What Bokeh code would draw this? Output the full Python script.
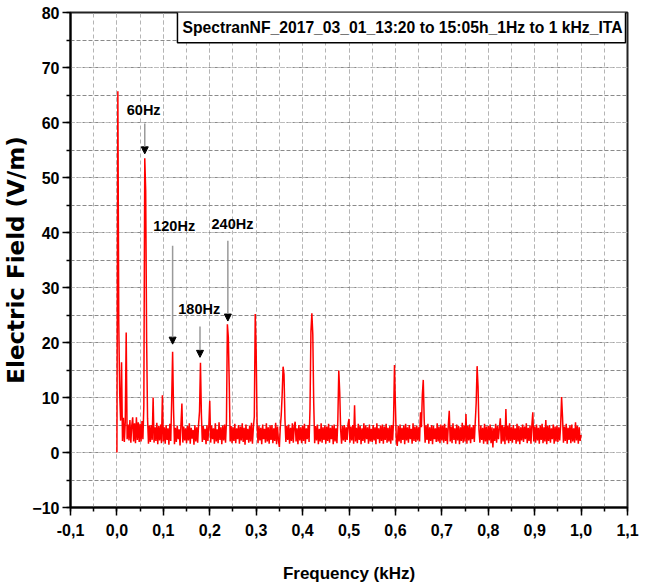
from bokeh.plotting import figure
from bokeh.models import (Range1d, SingleIntervalTicker, CustomJSTickFormatter,
                          Label, Arrow, NormalHead)
from bokeh.core.properties import value
from bokeh.embed import file_html
from bokeh.resources import INLINE

# ---------------- data ----------------
# amplitude (V/m) sampled every 2 Hz from 0 Hz to 1000 Hz
amp_0_48 = [0.0, 65.7, 23.4, 10.7, 5.8, 16.4, 2.1, 6.3, 1.9, 5.6, 21.8, 2.4, 5.1, 2.2, 5.9, 1.8, 4.9, 6.4, 2.0, 5.3, 1.7, 6.4, 2.3, 5.5, 1.9]
amp_50_98 = [5.2, 2.0, 5.7, 2.4, 8.5, 53.5, 47.6, 20.5, 6.2, 1.6, 4.9, 1.9, 5.0, 2.3, 10.0, 1.8, 4.6, 2.1, 5.4, 1.5, 4.8, 2.2, 5.1, 1.7, 10.4]
amp_100_148 = [2.0, 4.6, 1.6, 5.0, 2.3, 4.4, 1.4, 5.2, 2.1, 9.5, 18.3, 7.8, 1.5, 4.5, 1.9, 4.9, 2.4, 4.2, 1.3, 5.1, 8.9, 1.8, 4.7, 2.2, 4.4]
amp_150_198 = [1.7, 4.8, 2.2, 5.3, 1.6, 4.5, 2.5, 4.1, 1.4, 5.0, 2.0, 4.6, 1.8, 5.2, 7.5, 16.3, 6.9, 1.9, 4.8, 2.3, 4.3, 1.5, 5.0, 2.1, 4.7]
amp_200_248 = [9.4, 1.8, 4.9, 2.4, 4.4, 1.6, 5.3, 2.0, 4.2, 1.7, 5.5, 2.3, 4.6, 1.5, 4.9, 2.2, 5.1, 1.8, 5.6, 23.3, 21.0, 12.5, 2.0, 4.8, 1.7]
amp_250_298 = [4.6, 2.1, 5.2, 1.7, 4.4, 2.4, 5.0, 1.6, 4.7, 2.2, 5.3, 1.9, 4.5, 1.4, 5.1, 2.3, 4.3, 1.8, 4.9, 2.0, 5.4, 1.6, 4.6, 6.5, 25.2]
amp_300_348 = [18.4, 5.2, 1.7, 4.8, 2.2, 4.5, 1.5, 5.1, 2.4, 4.3, 1.8, 5.3, 2.0, 4.6, 1.6, 4.9, 2.3, 5.0, 1.7, 4.4, 2.1, 5.4, 1.5, 4.7, 2.2]
amp_350_398 = [1.0, 4.6, 6.8, 10.5, 15.6, 14.2, 6.1, 1.9, 4.8, 2.3, 5.1, 1.6, 4.5, 2.1, 5.3, 1.8, 4.7, 5.6, 2.0, 4.4, 1.5, 5.0, 2.2, 4.6, 1.7]
amp_400_448 = [4.9, 2.1, 5.2, 1.6, 4.4, 2.4, 5.0, 1.9, 8.0, 22.0, 25.3, 21.5, 9.0, 1.7, 4.8, 2.2, 5.1, 1.5, 4.3, 2.0, 5.3, 1.8, 4.6, 2.3, 4.9]
amp_450_498 = [1.6, 4.7, 2.1, 5.2, 1.8, 4.5, 2.4, 4.9, 1.5, 5.1, 2.0, 4.4, 1.7, 6.0, 14.9, 11.0, 4.2, 1.6, 4.8, 2.2, 5.0, 1.9, 4.6, 2.3, 5.2]
amp_500_548 = [6.1, 1.8, 4.7, 2.2, 5.0, 1.6, 8.6, 2.0, 4.5, 1.7, 5.2, 2.3, 4.8, 1.5, 4.4, 2.1, 5.3, 1.8, 4.9, 2.4, 4.6, 1.6, 5.1, 2.0, 4.3]
amp_550_598 = [1.9, 5.0, 2.2, 4.6, 1.5, 5.3, 2.4, 4.4, 1.7, 4.9, 2.1, 5.1, 1.6, 4.7, 2.3, 5.2, 1.8, 4.5, 2.0, 4.8, 1.6, 5.0, 2.2, 5.8, 15.9]
amp_600_648 = [8.5, 2.1, 1.2, 4.8, 2.0, 5.1, 1.7, 4.5, 2.3, 4.9, 1.5, 5.2, 2.2, 4.6, 1.8, 5.0, 2.4, 4.3, 1.6, 5.3, 2.1, 4.7, 1.9, 4.9, 2.2]
amp_650_698 = [4.6, 2.0, 7.3, 4.6, 10.5, 13.2, 6.0, 1.8, 4.9, 2.3, 5.2, 1.6, 4.6, 2.1, 5.0, 1.5, 4.8, 2.4, 4.4, 1.9, 5.3, 2.0, 4.7, 1.7, 5.1]
amp_700_748 = [2.2, 4.9, 1.8, 5.2, 2.1, 4.5, 1.5, 5.0, 7.6, 2.0, 4.7, 1.7, 5.3, 2.3, 4.4, 1.6, 5.1, 2.2, 4.8, 1.5, 4.6, 2.1, 5.4, 1.8, 4.9]
amp_750_798 = [2.0, 7.0, 1.6, 4.8, 2.2, 5.1, 1.7, 4.6, 2.4, 5.0, 1.9, 5.5, 9.0, 15.7, 12.0, 4.1, 1.8, 4.9, 2.3, 4.5, 1.6, 5.2, 2.0, 4.7, 1.5]
amp_800_848 = [4.8, 2.2, 5.1, 1.7, 4.6, 0.9, 4.4, 2.1, 5.2, 1.8, 4.8, 2.4, 4.5, 6.2, 1.6, 5.0, 2.0, 4.7, 1.5, 7.9, 2.2, 4.9, 1.7, 5.3, 2.1]
amp_850_898 = [4.6, 1.8, 5.0, 2.3, 4.4, 1.6, 5.2, 2.0, 4.8, 1.5, 4.6, 2.2, 5.1, 1.9, 4.7, 2.4, 5.3, 1.7, 4.5, 2.1, 4.9, 1.6, 5.0, 7.3, 2.0]
amp_900_948 = [4.7, 1.8, 5.1, 2.2, 4.5, 1.6, 4.9, 2.3, 5.2, 1.7, 4.6, 2.0, 5.9, 1.5, 4.8, 2.1, 5.0, 1.8, 4.4, 2.4, 5.1, 1.6, 4.7, 2.0, 4.9]
amp_950_998 = [1.9, 4.6, 2.2, 5.0, 10.1, 6.5, 1.8, 4.7, 2.1, 5.2, 1.6, 4.5, 2.3, 4.9, 1.7, 5.1, 2.0, 4.4, 1.8, 5.5, 2.2, 4.8, 1.6, 4.6, 2.1]
amp_1000 = [3.2]

amplitude = (amp_0_48 + amp_50_98 + amp_100_148 + amp_150_198 + amp_200_248 +
             amp_250_298 + amp_300_348 + amp_350_398 + amp_400_448 + amp_450_498 +
             amp_500_548 + amp_550_598 + amp_600_648 + amp_650_698 + amp_700_748 +
             amp_750_798 + amp_800_848 + amp_850_898 + amp_900_948 + amp_950_998 +
             amp_1000)
step_khz = 0.002
frequency = [i * step_khz for i in range(len(amplitude))]

# harmonic annotations
ann_labels = ["60Hz", "120Hz", "180Hz", "240Hz"]
ann_freq = [0.06, 0.12, 0.179, 0.239]

title_text = "SpectranNF_2017_03_01_13:20 to 15:05h_1Hz to 1 kHz_ITA"

# ---------------- styling/layout ----------------
SANS = "Liberation Sans"
WIDE = "DejaVu Sans"

ann_text_x = [0.0577, 0.1234, 0.1773, 0.249]
ann_text_y = [62.2, 41.2, 26.1, 41.6]
arrow_top = [59.8, 37.6, 22.9, 38.5]
arrow_tip = [54.3, 19.7, 17.3, 23.9]

p = figure(width=646, height=587, output_backend="svg", toolbar_location=None,
           x_range=Range1d(-0.1, 1.1), y_range=Range1d(-10, 80),
           min_border_left=70, min_border_right=19, min_border_top=12,
           min_border_bottom=80)
p.background_fill_color = "white"
p.border_fill_color = "white"
p.outline_line_color = "#222222"
p.outline_line_width = 2

p.xaxis.ticker = SingleIntervalTicker(interval=0.1, num_minor_ticks=2)
p.yaxis.ticker = SingleIntervalTicker(interval=10, num_minor_ticks=2)
p.xaxis.formatter = CustomJSTickFormatter(code="""
    if (Math.abs(tick) < 1e-9) { return "0,0"; }
    return tick.toFixed(1).replace('.', ',');
""")

for ax in (p.xaxis[0], p.yaxis[0]):
    ax.axis_line_width = 2
    ax.axis_line_color = "black"
    ax.major_tick_line_width = 1.5
    ax.minor_tick_line_width = 1.5
    ax.major_tick_line_color = "black"
    ax.minor_tick_line_color = "black"
    ax.major_tick_in = 0
    ax.minor_tick_in = 0
    ax.major_tick_out = 8
    ax.minor_tick_out = 4
    ax.major_label_text_font = SANS
    ax.major_label_text_font_style = "bold"
    ax.major_label_text_font_size = "16px"
    ax.major_label_text_color = "black"
    ax.axis_label_text_font_style = "bold"
    ax.axis_label_text_color = "black"

p.xaxis.axis_label = "Frequency (kHz)"
p.xaxis.axis_label_text_font = SANS
p.xaxis.axis_label_text_font_size = "17px"
p.xaxis.major_label_standoff = 8
p.xaxis.axis_label_standoff = 25

p.yaxis.axis_label = "Electric Field (V/m)"
p.yaxis.axis_label_text_font = WIDE
p.yaxis.axis_label_text_font_size = "23px"
p.yaxis.major_label_standoff = 3
p.yaxis.axis_label_standoff = 0

p.xgrid.grid_line_color = "#b4b4b4"
p.xgrid.grid_line_dash = "4 3"
p.xgrid.minor_grid_line_color = "#b4b4b4"
p.xgrid.minor_grid_line_dash = "4 3"
p.ygrid.grid_line_color = "#bdbdbd"
p.ygrid.grid_line_dash = "4 3"
p.ygrid.minor_grid_line_color = "#8a8a8a"
p.ygrid.minor_grid_line_dash = "4 2"

p.line(frequency, amplitude, line_color="#ff0000", line_width=1.5)

for fx, y0, y1 in zip(ann_freq, arrow_top, arrow_tip):
    p.add_layout(Arrow(end=NormalHead(size=7, fill_color="black", line_color="black"),
                       x_start=fx, y_start=y0, x_end=fx, y_end=y1,
                       line_color="#9a9a9a", line_width=1.5))

p.text(x=ann_text_x, y=ann_text_y, text=ann_labels, text_align="center",
       text_baseline="middle", text_font=value(SANS), text_font_style="bold",
       text_font_size="14.5px", text_color="black")

p.add_layout(Label(x=1.0957, y=80.15, text=title_text, text_align="right",
                   text_baseline="top", text_font=SANS, text_font_style="bold",
                   text_font_size="15.7px", text_color="black",
                   border_line_color="black", border_line_width=1.5,
                   background_fill_color="white",
                   padding=dict(left=5, right=3, top=7, bottom=7)))

open("out.html", "w").write(file_html(p, INLINE))
